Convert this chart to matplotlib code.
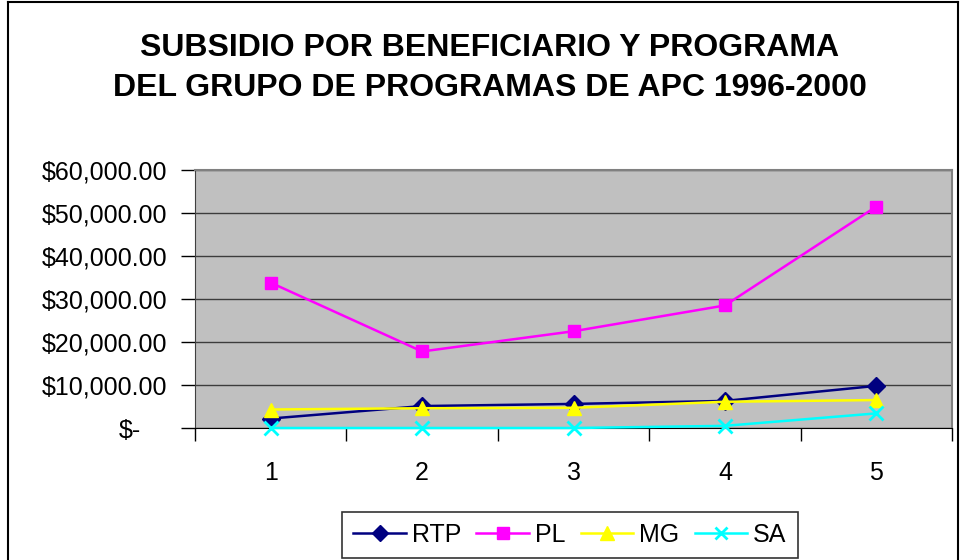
import matplotlib
matplotlib.use("Agg")
import matplotlib.pyplot as plt
import matplotlib.transforms as mtransforms
from matplotlib.lines import Line2D
from matplotlib.ticker import FixedLocator, FuncFormatter

plt.rcParams["font.family"] = ["Liberation Sans", "DejaVu Sans"]

# Data
years = [1, 2, 3, 4, 5]
rtp = [2200, 5100, 5600, 6300, 9800]
pl = [33800, 17800, 22500, 28500, 51500]
mg = [4300, 4600, 4700, 6100, 6500]
sa = [0, 0, 0, 500, 3400]

series_names = ["RTP", "PL", "MG", "SA"]
y_ticks = [0, 10000, 20000, 30000, 40000, 50000, 60000]

PLOT_BG = "#C0C0C0"
GRID = "#3c3c3c"

W, H = 961, 560
fig = plt.figure(figsize=(W / 100, H / 100), dpi=100, facecolor="white")
ax = fig.add_axes([195 / W, (H - 428) / H, 757 / W, 258 / H])
ax.set_facecolor(PLOT_BG)

styles = [
    dict(color="#000080", marker="D", ms=9),
    dict(color="#FF00FF", marker="s", ms=9),
    dict(color="#FFFF00", marker="^", ms=10.5),
    dict(color="#00FFFF", marker="x", ms=9.5, mew=2),
]
for vals, name, st in zip([rtp, pl, mg, sa], series_names, styles):
    ax.plot(years, vals, lw=1.8, label=name, clip_on=False, zorder=3, **st)

ax.set_xlim(0.5, 5.5)
ax.set_ylim(0, 60000)
ax.set_xticks(years)
ax.set_xticklabels([str(y) for y in years])
ax.xaxis.set_minor_locator(FixedLocator([0.5, 1.5, 2.5, 3.5, 4.5, 5.5]))
ax.tick_params(axis="x", which="major", length=0, pad=24, labelsize=18)
ax.tick_params(axis="x", which="minor", length=9, width=1, color="black")

ax.set_yticks(y_ticks)
ax.yaxis.set_major_formatter(
    FuncFormatter(lambda v, p: "$-" if v == 0 else f"${v:,.2f}")
)
ax.tick_params(axis="y", length=10, width=1, pad=10, labelsize=18)
ax.yaxis.grid(True, color=GRID, lw=1)
ax.set_axisbelow(True)

# accounting format: "$-" sits left of the decimals
for lbl in ax.get_yticklabels():
    if lbl.get_text() == "$-":
        off = mtransforms.ScaledTranslation(-26 / 100, 0, fig.dpi_scale_trans)
        lbl.set_transform(lbl.get_transform() + off)

for side in ["top", "right"]:
    ax.spines[side].set_color("#808080")
    ax.spines[side].set_linewidth(1.5)
ax.spines["left"].set_color("#404040")
ax.spines["bottom"].set_color("black")

# Title
fig.text(
    490 / W, 1 - 68 / H,
    "SUBSIDIO POR BENEFICIARIO Y PROGRAMA\nDEL GRUPO DE PROGRAMAS DE APC 1996-2000",
    ha="center", va="center", fontsize=23, fontweight="bold", linespacing=1.42,
)

# Legend
leg = fig.legend(
    loc="center", bbox_to_anchor=(570 / W, 1 - 535 / H), ncol=4,
    fontsize=18, frameon=True, fancybox=False, edgecolor="black",
    handlelength=2.1, handletextpad=0.25, columnspacing=0.6, borderpad=0.45,
    markerscale=0.95,
)
leg.get_frame().set_linewidth(1.2)

# Outer chart border
fig.add_artist(Line2D([7.5 / W, 7.5 / W], [0, 1 - 2 / H], color="black", lw=1.5))
fig.add_artist(Line2D([7.5 / W, 958 / W], [1 - 2 / H, 1 - 2 / H], color="black", lw=1.5))
fig.add_artist(Line2D([958 / W, 958 / W], [0, 1 - 2 / H], color="black", lw=1.5))

fig.savefig("out.png", dpi=100, facecolor="white")
